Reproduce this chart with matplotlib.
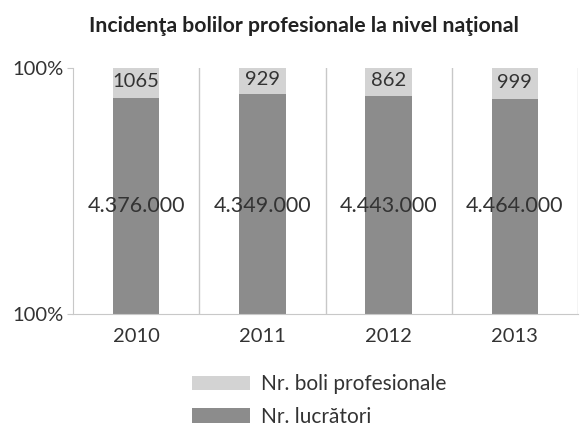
import matplotlib
matplotlib.use("Agg")
import matplotlib.pyplot as plt
import numpy as np

plt.rcParams["font.family"] = ["Lato", "DejaVu Sans"]

years = ["2010", "2011", "2012", "2013"]
# label values shown on the bars
workers = ["4.376.000", "4.349.000", "4.443.000", "4.464.000"]
diseases = ["1065", "929", "862", "999"]
# segment shares as drawn in the original (not to true scale)
workers_share = [0.880, 0.895, 0.887, 0.875]
diseases_share = [0.120, 0.105, 0.113, 0.125]

DARK = "#8c8c8c"
LIGHT = "#d3d3d3"
GRID = "#c8c8c8"
TEXT = "#333333"

fig = plt.figure(figsize=(5.82, 4.30), dpi=100)
ax = fig.add_axes([0.1254, 0.269, 0.8678, 0.573])

x = np.arange(len(years))
width = 0.37
ax.bar(x, workers_share, width, color=DARK, label="Nr. lucrători", zorder=2)
ax.bar(x, diseases_share, width, bottom=workers_share, color=LIGHT,
       label="Nr. boli profesionale", zorder=2)

for i in x:
    ax.text(i, 0.44, workers[i], ha="center", va="center", fontsize=15.5,
            color=TEXT, zorder=3)
    ax.text(i, workers_share[i] + diseases_share[i] / 2 + 0.005, diseases[i],
            ha="center", va="center", fontsize=14.5, color=TEXT, zorder=3)

ax.set_xlim(-0.5, 3.5)
ax.set_ylim(0, 1)
for b in np.arange(0.5, 3.6, 1.0):
    ax.axvline(b, color=GRID, lw=1, zorder=1)

ax.set_xticks(x, years)
ax.set_yticks([0, 1], ["100%", "100%"])
ax.tick_params(axis="x", length=0, labelsize=14.5, labelcolor=TEXT, pad=10)
ax.tick_params(axis="y", length=4, color=GRID, labelsize=14.5, labelcolor=TEXT, pad=3)
for side in ("top", "right"):
    ax.spines[side].set_visible(False)
for side in ("left", "bottom"):
    ax.spines[side].set_color(GRID)

fig.suptitle("Incidenţa bolilor profesionale la nivel naţional", x=0.522, y=0.94,
             va="center", fontsize=15.3, fontweight="bold", color="#222222")

handles, labels = ax.get_legend_handles_labels()
fig.legend(handles[::-1], labels[::-1], loc="upper left", bbox_to_anchor=(0.33, 0.13),
           frameon=False, fontsize=15, handlelength=2.8, handleheight=0.7,
           labelspacing=0.6, handletextpad=0.5, labelcolor=TEXT,
           borderaxespad=0, borderpad=0)

fig.savefig("out.png", dpi=100)
